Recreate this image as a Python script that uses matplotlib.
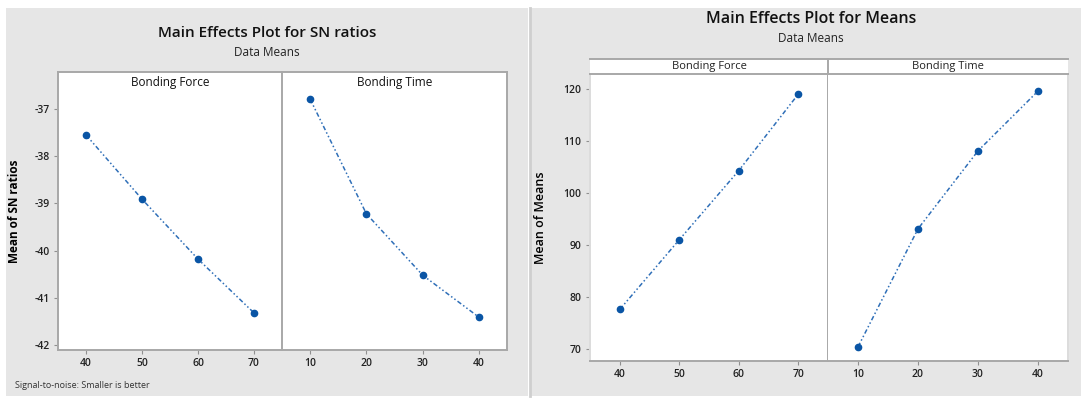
import matplotlib.pyplot as plt
from matplotlib.patches import Rectangle

plt.rcParams['font.family'] = ['Open Sans', 'DejaVu Sans']

# factor levels
force_levels = ['40', '50', '60', '70']
time_levels = ['10', '20', '30', '40']

# main effects for SN ratios (smaller is better)
sn_force = [-37.55, -38.91, -40.18, -41.32]
sn_time = [-36.79, -39.22, -40.52, -41.41]
sn_ticks = [-37, -38, -39, -40, -41, -42]

# main effects for means
mean_force = [77.6, 91.0, 104.3, 119.0]
mean_time = [70.4, 93.1, 108.1, 119.6]
mean_ticks = [70, 80, 90, 100, 110, 120]

W, H = 1084, 398
fig = plt.figure(figsize=(W / 100, H / 100), dpi=100)
fig.patch.set_facecolor('white')

BG = '#e6e6e6'
EDGE = '#a8a8a8'
LINE = '#2f6fb8'
MARK = '#0a55a5'
LS = (0, (3, 1.6, 1, 1.6, 1, 1.6))


def px_axes(x0, y0, x1, y1, **kw):
    return fig.add_axes([x0 / W, 1 - y1 / H, (x1 - x0) / W, (y1 - y0) / H], **kw)


# grey panel backgrounds
fig.patches.append(Rectangle((6 / W, 2 / H), 522 / W, 388 / H, transform=fig.transFigure,
                             facecolor=BG, edgecolor='none', zorder=-10))
fig.patches.append(Rectangle((531 / W, 2 / H), 550 / W, 388 / H, transform=fig.transFigure,
                             facecolor=BG, edgecolor='none', zorder=-10))
fig.add_artist(plt.Line2D([529.5 / W, 529.5 / W], [2 / H, 390 / H], transform=fig.transFigure,
                          color='#cfcfcf', lw=2))


def effect_panel(ax, levels, vals, ylim, ticks, show_y, frame_all):
    x = range(len(levels))
    ax.plot(x, vals, color=LINE, lw=1.1, ls=LS, zorder=2)
    ax.plot(x, vals, 'o', color=MARK, ms=4.5, zorder=3)
    ax.set_xlim(-0.5, len(levels) - 0.5)
    ax.set_ylim(*ylim)
    ax.set_xticks(list(x))
    ax.set_xticklabels(levels, fontweight='semibold')
    ax.set_yticks(ticks)
    ax.tick_params(axis='both', length=3, width=0.8, color='#909090', labelsize=7.5,
                   labelcolor='#222222', pad=3)
    if show_y:
        ax.set_yticklabels([str(t) for t in ticks], fontweight='semibold')
    else:
        ax.tick_params(axis='y', left=False, labelleft=False)
    for s in ax.spines.values():
        s.set_color(EDGE)
        s.set_linewidth(1.4)
    if not frame_all:
        ax.spines['top'].set_visible(False)
    ax.set_facecolor('white')


# ---- SN ratios ----
sn_lim = (-42.106, -36.216)
a1 = px_axes(58, 72, 282, 350)
a2 = px_axes(282, 72, 507, 350)
effect_panel(a1, force_levels, sn_force, sn_lim, sn_ticks, True, True)
effect_panel(a2, time_levels, sn_time, sn_lim, sn_ticks, False, True)
a1.spines['right'].set_visible(False)
a1.set_title('Bonding Force', fontsize=8.5, y=0.985, pad=0, va='top', color='#111111')
a2.set_title('Bonding Time', fontsize=8.5, y=0.985, pad=0, va='top', color='#111111')
a1.set_ylabel('Mean of SN ratios', fontsize=8.5, fontweight='bold', labelpad=10)

fig.text(267 / W, 1 - 33 / H, 'Main Effects Plot for SN ratios', ha='center', va='center',
         fontsize=11, fontweight='semibold', color='#111111')
fig.text(267 / W, 1 - 53 / H, 'Data Means', ha='center', va='center', fontsize=8.5,
         color='#222222')
fig.text(15 / W, 1 - 385 / H, 'Signal-to-noise: Smaller is better', ha='left', va='center',
         fontsize=6.5, color='#333333')

# ---- Means ----
mean_lim = (67.69, 122.88)
b1 = px_axes(590, 74, 828, 361)
b2 = px_axes(828, 74, 1068, 361)
effect_panel(b1, force_levels, mean_force, mean_lim, mean_ticks, True, False)
effect_panel(b2, time_levels, mean_time, mean_lim, mean_ticks, False, False)
for ax in (b1, b2):
    ax.spines['left'].set_color('#dcdcdc')
    ax.spines['right'].set_color('#dcdcdc')
b1.spines['right'].set_color(EDGE)
b2.spines['left'].set_visible(False)
b1.set_ylabel('Mean of Means', fontsize=9, fontweight='semibold', labelpad=12)

for x0, x1, name in [(590, 828, 'Bonding Force'), (828, 1068, 'Bonding Time')]:
    st = px_axes(x0, 59, x1, 74)
    st.set_xticks([])
    st.set_yticks([])
    st.set_facecolor('white')
    for s in st.spines.values():
        s.set_color(EDGE)
        s.set_linewidth(1.4)
    st.spines['left'].set_visible(x0 == 828)
    st.spines['right'].set_visible(False)
    st.text(0.5, 0.5, name, ha='center', va='center', fontsize=8, color='#222222',
            transform=st.transAxes)

fig.text(811 / W, 1 - 19 / H, 'Main Effects Plot for Means', ha='center', va='center',
         fontsize=11.5, fontweight='semibold', color='#111111')
fig.text(811 / W, 1 - 39 / H, 'Data Means', ha='center', va='center', fontsize=8.5,
         color='#222222')

fig.savefig('out.png', dpi=100, facecolor='white')
